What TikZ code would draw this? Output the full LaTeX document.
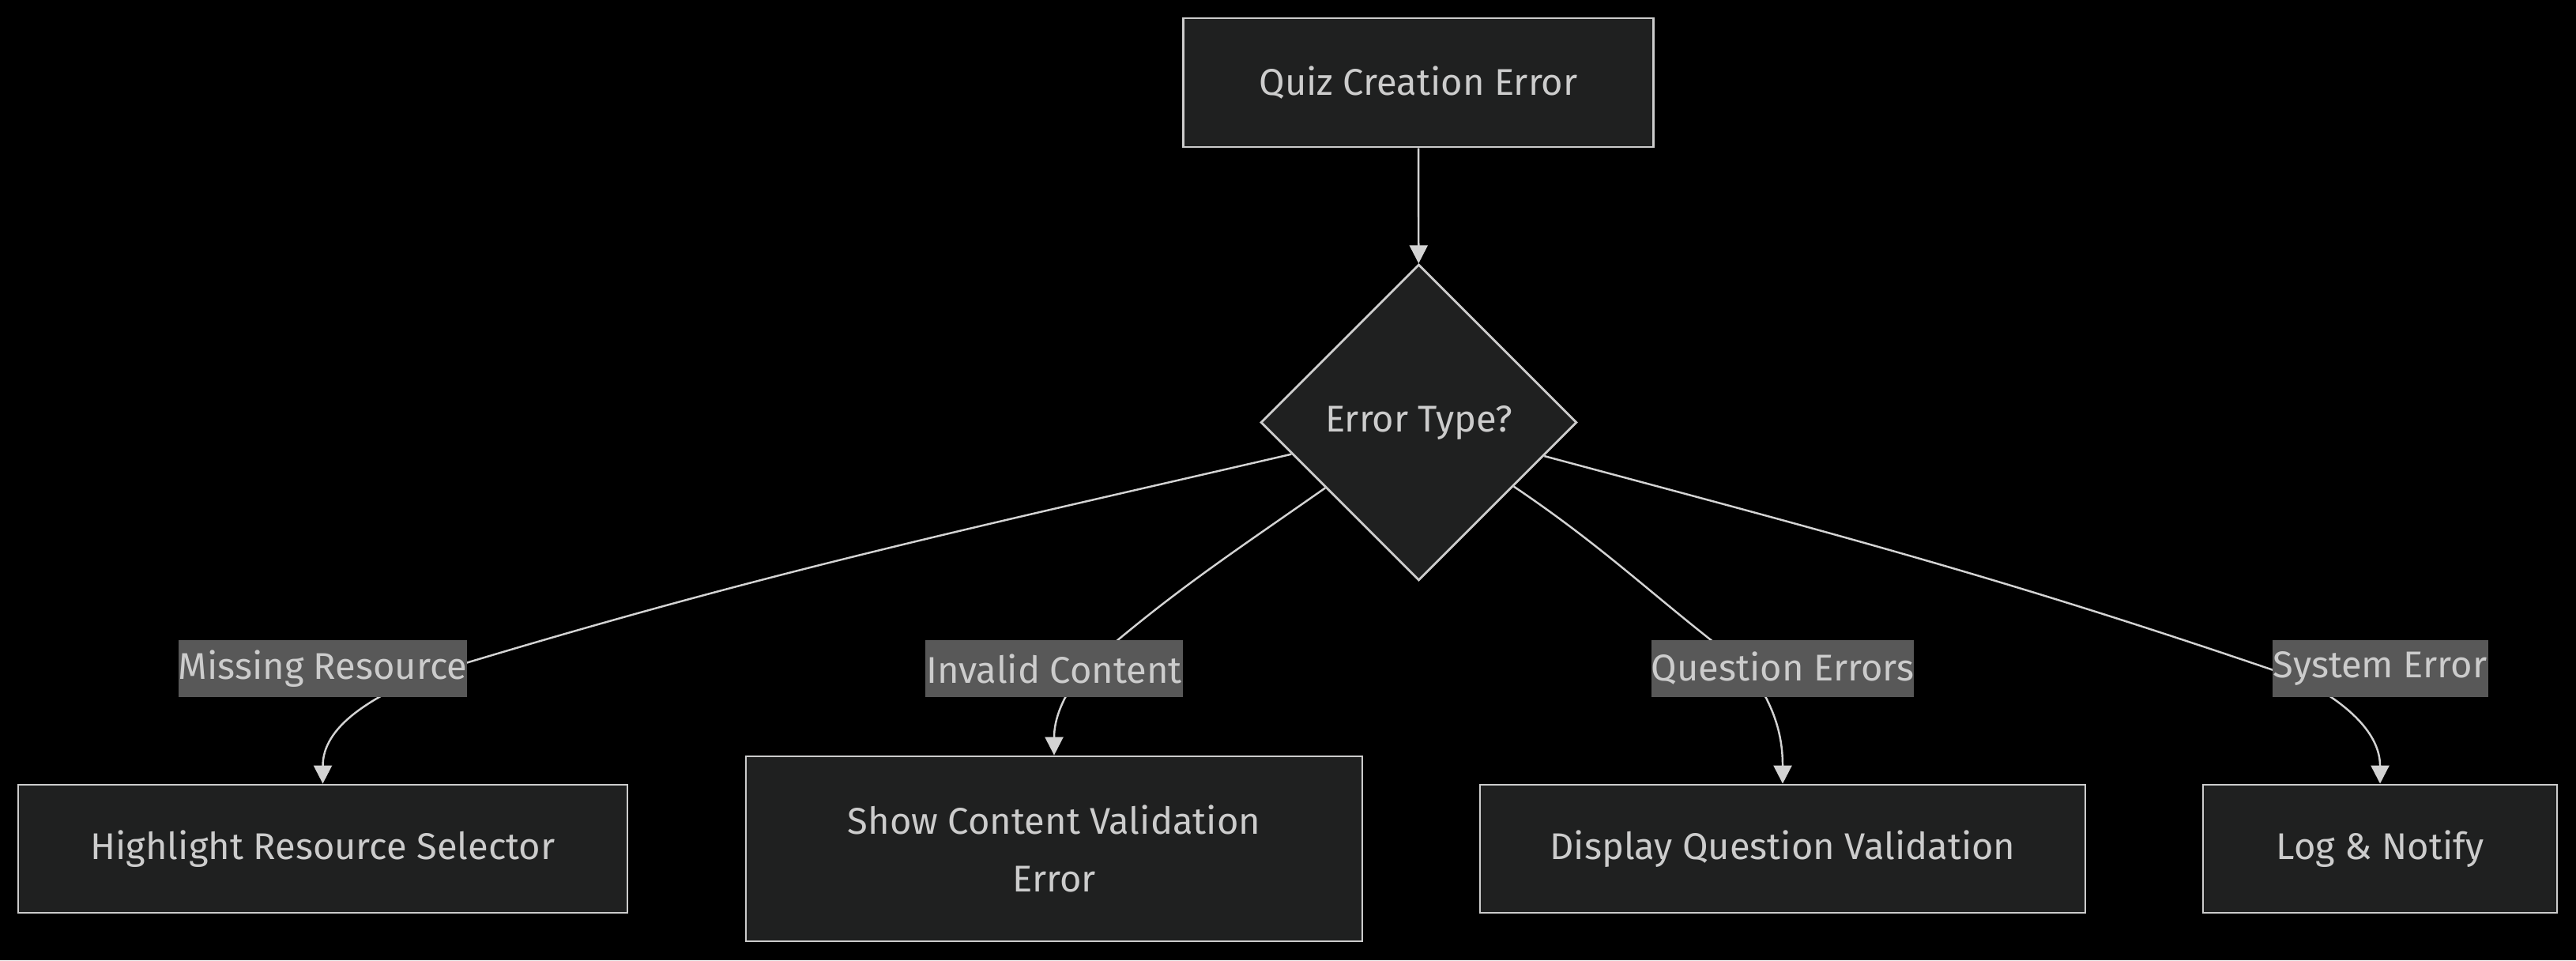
\documentclass[tikz,border=0pt]{standalone}
\usepackage{fontspec}
\setmainfont{Fira Sans}
\usetikzlibrary{arrows.meta, shapes.geometric}
\definecolor{nodefill}{HTML}{1F2020}
\definecolor{nodeline}{HTML}{CCCCCC}
\definecolor{edgeline}{HTML}{D3D3D3}
\definecolor{labelfill}{HTML}{585858}
\tikzset{every node/.append style = {font=\fontsize{13.4}{20.7}\selectfont, text=nodeline}}
\tikzset{box/.style = {draw=nodeline, fill=nodefill, line width=0.8pt, minimum height=1.62cm, inner sep=0pt, align=center}}
\tikzset{decision/.style = {diamond, aspect=1, draw=nodeline, fill=nodefill, line width=0.8pt, minimum width=4cm, minimum height=4cm, inner sep=0pt}}
\tikzset{elabel/.style = {fill=labelfill, minimum height=0.72cm, inner sep=0pt}}
\tikzset{flow/.style = {draw=edgeline, line width=0.7pt, -{Triangle[length=2.3mm, width=2.3mm]}}}

\begin{document}
\begin{tikzpicture}
\fill [black] (0,0) rectangle (32.6,-12.15);
\useasboundingbox (0,0) rectangle (32.6,-12.15);
\node [box, minimum width=5.95cm, minimum height=1.63cm] (start) at (17.95,-1.045) {Quiz Creation Error};
\node [decision] (dec) at (17.955,-5.345) {Error Type?};
\node [box, minimum width=7.71cm] (hrs) at (4.085,-10.74) {Highlight Resource Selector};
\node [box, minimum width=7.80cm, minimum height=2.34cm] (scv) at (13.34,-10.74) {Show Content Validation\\Error};
\node [box, minimum width=7.66cm] (dqv) at (22.56,-10.74) {Display Question Validation};
\node [box, minimum width=4.48cm] (lgn) at (30.12,-10.74) {Log \& Notify};
\coordinate (k1) at (5.30,-8.57);
\coordinate (k2) at (13.72,-8.46);
\coordinate (k3) at (22.12,-8.46);
\coordinate (k4) at (29.15,-8.61);
\draw [flow] (start) -- (dec);
\draw [flow] (dec.194) to [out=193, in=17] (k1) to [out=204, in=90] (hrs.north);
\draw [flow] (dec.215) to [out=215, in=41] (k2) to [out=232, in=90] (scv.north);
\draw [flow] (dec.326) to [out=326, in=143] (k3) to [out=306, in=90] (dqv.north);
\draw [flow] (dec.345) to [out=345, in=161] (k4) to [out=332, in=90] (lgn.north);
\node [elabel, minimum width=3.57cm] (l1) at (4.085,-8.46) {Missing Resource};
\node [elabel, minimum width=3.26cm] (l2) at (13.34,-8.46) {Invalid Content};
\node [elabel, minimum width=3.28cm] (l3) at (22.56,-8.46) {Question Errors};
\node [elabel, minimum width=2.73cm] (l4) at (30.12,-8.46) {System Error};
\end{tikzpicture}
\end{document}
